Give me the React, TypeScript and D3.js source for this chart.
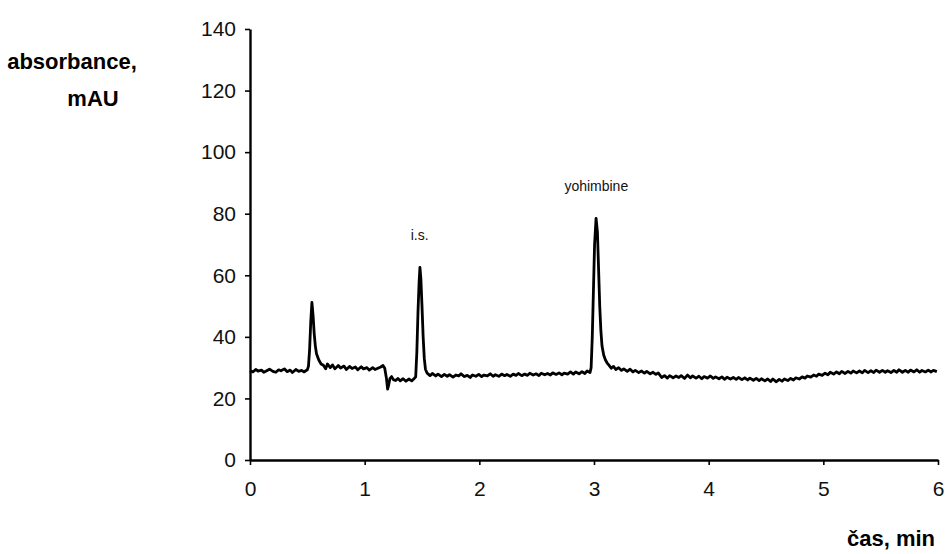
import * as d3 from 'd3';
import { useEffect, useRef } from 'react';

// chromatogram trace, [time (min), absorbance (mAU)]
const baselineStart: [number, number][] = [
  [0, 29.0], [0.025, 28.6], [0.05, 29.4], [0.07, 28.9], [0.1, 29.2], [0.12, 28.5],
  [0.15, 29.1], [0.17, 29.5], [0.2, 28.8], [0.225, 28.5], [0.25, 29.3], [0.27, 29.0],
  [0.3, 29.6], [0.325, 28.7], [0.35, 29.2], [0.37, 28.4], [0.4, 29.4], [0.425, 28.8],
  [0.45, 29.1], [0.47, 28.6], [0.5, 29.3],
];

const firstPeak: [number, number][] = [
  [0.51, 30.5], [0.52, 36], [0.53, 45], [0.54, 51.2], [0.55, 47], [0.56, 41],
  [0.57, 37], [0.58, 34.5], [0.6, 32.5], [0.62, 31.2], [0.64, 30.8],
];

const midBaseline: [number, number][] = [
  [0.66, 29.6], [0.675, 31.2], [0.7, 30.0], [0.72, 30.9], [0.74, 29.6], [0.77, 30.7],
  [0.79, 29.9], [0.82, 30.5], [0.84, 29.4], [0.87, 30.4], [0.89, 29.7], [0.92, 30.2],
  [0.94, 29.3], [0.97, 30.3], [0.99, 29.6], [1.02, 30.0], [1.04, 29.2], [1.07, 30.0],
  [1.09, 29.4], [1.12, 29.9], [1.14, 30.2], [1.16, 30.7], [1.175, 29.8],
  [1.19, 26.5], [1.2, 23.0], [1.21, 24.5], [1.22, 26.4], [1.235, 27.1], [1.25, 26.1],
  [1.27, 25.8], [1.29, 26.5], [1.31, 25.7], [1.335, 26.4], [1.36, 25.6], [1.385, 26.3],
  [1.41, 25.7], [1.43, 26.4],
];

const isPeak: [number, number][] = [
  [1.445, 27], [1.455, 35], [1.465, 48], [1.475, 58], [1.482, 62.6], [1.49, 59],
  [1.5, 50], [1.51, 40], [1.52, 33], [1.53, 29.5], [1.545, 28.2],
];

const plateau: [number, number][] = [
  [1.57, 27.4], [1.59, 28.1], [1.62, 27.3], [1.64, 27.9], [1.67, 27.1], [1.695, 27.8],
  [1.72, 27.2], [1.74, 27.7], [1.77, 26.9], [1.795, 27.6], [1.82, 27.3], [1.84, 28.0],
  [1.87, 27.1], [1.895, 27.5], [1.92, 26.8], [1.94, 27.6], [1.97, 27.2], [1.995, 27.8],
  [2.02, 27.1], [2.04, 27.6], [2.07, 27.3], [2.095, 28.0], [2.12, 27.2], [2.14, 27.7],
  [2.17, 27.2], [2.195, 27.9], [2.22, 27.4], [2.24, 27.8], [2.27, 27.2], [2.295, 27.9],
  [2.32, 27.5], [2.34, 28.1], [2.37, 27.4], [2.395, 27.9], [2.42, 27.5], [2.44, 28.2],
  [2.47, 27.6], [2.495, 28.0], [2.52, 27.4], [2.54, 28.2], [2.57, 27.7], [2.595, 28.1],
  [2.62, 27.6], [2.64, 28.3], [2.67, 27.8], [2.695, 28.3], [2.72, 27.7], [2.74, 28.2],
  [2.77, 27.9], [2.795, 28.6], [2.82, 27.9], [2.84, 28.6], [2.87, 28.0], [2.895, 28.7],
  [2.92, 28.1], [2.94, 28.9], [2.965, 28.4],
];

const yohimbinePeak: [number, number][] = [
  [2.975, 30], [2.985, 40], [2.995, 55], [3.005, 70], [3.018, 78.5], [3.03, 74],
  [3.04, 62], [3.05, 50], [3.06, 42], [3.07, 37], [3.085, 34], [3.1, 32.5],
  [3.115, 31.5], [3.13, 30.8], [3.15, 29.8], [3.17, 30.4], [3.19, 29.4],
];

const baselineEnd: [number, number][] = [
  [3.215, 30.0], [3.24, 29.1], [3.26, 29.6], [3.29, 28.8], [3.315, 29.5], [3.34, 28.6],
  [3.36, 29.1], [3.39, 28.4], [3.415, 28.9], [3.44, 28.2], [3.46, 28.8], [3.49, 28.0],
  [3.515, 28.5], [3.54, 27.8], [3.56, 28.3], [3.59, 26.8], [3.615, 27.4], [3.64, 26.6],
  [3.66, 27.4], [3.69, 26.7], [3.715, 27.3], [3.74, 26.8], [3.76, 27.4], [3.79, 26.5],
  [3.815, 27.6], [3.84, 26.7], [3.86, 27.3], [3.89, 26.6], [3.915, 27.2], [3.94, 26.4],
  [3.96, 27.1], [3.99, 26.6], [4.015, 27.3], [4.04, 26.5], [4.06, 27.0], [4.09, 26.4],
  [4.115, 27.0], [4.14, 26.2], [4.16, 26.9], [4.19, 26.3], [4.215, 26.8], [4.24, 26.2],
  [4.26, 26.8], [4.29, 26.1], [4.315, 26.7], [4.34, 26.0], [4.36, 26.6], [4.39, 25.9],
  [4.415, 26.5], [4.44, 25.8], [4.46, 26.4], [4.49, 25.7], [4.515, 26.3], [4.54, 25.5],
  [4.56, 26.3], [4.59, 25.4], [4.615, 26.2], [4.64, 25.6], [4.66, 26.3], [4.69, 25.8],
  [4.715, 26.5], [4.74, 26.0], [4.76, 26.7], [4.79, 26.3], [4.815, 27.0], [4.84, 26.6],
  [4.86, 27.3], [4.89, 26.9], [4.915, 27.6], [4.94, 27.2], [4.96, 27.9], [4.99, 27.5],
  [5.015, 28.2], [5.04, 27.7], [5.06, 28.5], [5.09, 27.9], [5.115, 28.6], [5.14, 28.0],
  [5.16, 28.8], [5.19, 28.1], [5.215, 28.8], [5.24, 28.2], [5.26, 28.9], [5.29, 28.3],
  [5.315, 28.9], [5.34, 28.3], [5.36, 29.1], [5.39, 28.4], [5.415, 29.0], [5.44, 28.4],
  [5.46, 29.2], [5.49, 28.5], [5.515, 29.1], [5.54, 28.5], [5.56, 29.0], [5.59, 28.4],
  [5.615, 29.1], [5.64, 28.5], [5.66, 29.3], [5.69, 28.5], [5.715, 29.1], [5.74, 28.5],
  [5.76, 29.2], [5.79, 28.6], [5.815, 29.3], [5.84, 28.5], [5.86, 29.1], [5.89, 28.6],
  [5.915, 29.2], [5.94, 28.6], [5.96, 29.1], [5.99, 28.7],
];

const xTicks = [0, 1, 2, 3, 4, 5, 6];
const yTicks = [0, 20, 40, 60, 80, 100, 120, 140];

const peakLabels = [
  { text: 'i.s.', time: 1.48, value: 62.6 },
  { text: 'yohimbine', time: 3.02, value: 78.5 },
];

const font = 'Arial, "Liberation Sans", sans-serif';

export default function App() {
  const svgRef = useRef<SVGSVGElement | null>(null);

  useEffect(() => {
    if (!svgRef.current) return;
    const svg = d3.select(svgRef.current);
    svg.selectAll('*').remove();

    const x = d3.scaleLinear().domain([0, 6]).range([250, 938]);
    const y = d3.scaleLinear().domain([0, 140]).range([460, 29]);

    const trace = [
      ...baselineStart,
      ...firstPeak,
      ...midBaseline,
      ...isPeak,
      ...plateau,
      ...yohimbinePeak,
      ...baselineEnd,
    ];

    const line = d3
      .line<[number, number]>()
      .x((d) => x(d[0]))
      .y((d) => y(d[1]));

    svg
      .append('path')
      .datum(trace)
      .attr('d', line)
      .attr('fill', 'none')
      .attr('stroke', '#000')
      .attr('stroke-width', 2.8)
      .attr('stroke-linejoin', 'round');

    const xAxis = svg
      .append('g')
      .attr('transform', 'translate(0,460)')
      .call(
        d3
          .axisBottom(x)
          .tickValues(xTicks)
          .tickFormat(d3.format('d'))
          .tickSizeInner(5)
          .tickSizeOuter(0)
          .tickPadding(16)
      );

    const yAxis = svg
      .append('g')
      .attr('transform', 'translate(250,0)')
      .call(
        d3
          .axisLeft(y)
          .tickValues(yTicks)
          .tickFormat(d3.format('d'))
          .tickSizeInner(5)
          .tickSizeOuter(0)
          .tickPadding(9)
      );

    [xAxis, yAxis].forEach((g) => {
      g.select('.domain').attr('stroke', '#000').attr('stroke-width', 2.4);
      g.selectAll('.tick line').attr('stroke', '#000').attr('stroke-width', 1.6);
      g.selectAll('.tick text')
        .attr('fill', '#111')
        .attr('font-size', 21)
        .attr('font-family', font);
    });

    svg
      .selectAll('.peak-label')
      .data(peakLabels)
      .enter()
      .append('text')
      .attr('class', 'peak-label')
      .attr('x', (d) => x(d.time))
      .attr('y', (d) => y(d.value) - 27)
      .attr('text-anchor', 'middle')
      .attr('font-size', 14)
      .attr('font-family', font)
      .attr('fill', '#111')
      .text((d) => d.text);

    const title = svg
      .append('g')
      .attr('font-family', font)
      .attr('font-weight', 'bold')
      .attr('font-size', 22)
      .attr('fill', '#000');

    title.append('text').attr('x', 72).attr('y', 69).attr('text-anchor', 'middle').text('absorbance,');
    title.append('text').attr('x', 93).attr('y', 106).attr('text-anchor', 'middle').text('mAU');
    title.append('text').attr('x', 935).attr('y', 546).attr('text-anchor', 'end').text('čas, min');
  }, []);

  return (
    <svg
      ref={svgRef}
      width={948}
      height={554}
      style={{ position: 'absolute', left: 0, top: 0, background: '#fff' }}
    />
  );
}
